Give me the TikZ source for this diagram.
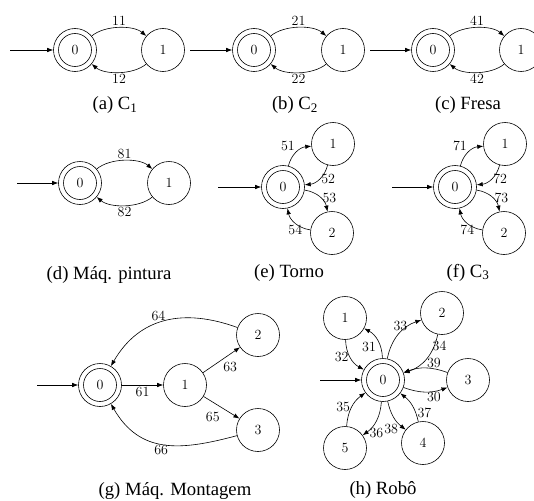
\documentclass[tikz,border=0pt]{standalone}
\usepackage{fontspec}
\newfontfamily\capfont{Liberation Serif}
\usetikzlibrary{arrows.meta}
\newcommand{\lblsize}{\fontsize{14}{16}\selectfont}
\newcommand{\capsize}{\fontsize{18.7}{22}\selectfont}
\tikzset{
  st/.style={circle, draw, minimum size=43pt, inner sep=0pt},
  acc/.style={st, path picture={\draw (path picture bounding box.center) circle (16.5pt);}},
  arr/.style={-{Latex[length=6pt,width=4.5pt]}},
  captxt/.style={font=\capfont\capsize, anchor=base},
  lb/.style={inner sep=1.5pt},
}
\begin{document}
\begin{tikzpicture}[x=1pt, y=1pt, line width=0.6pt, font=\lblsize]
\useasboundingbox (0,0) rectangle (534,-500);

% (a) C1
\node[acc] (a0) at (75,-50) {0};
\node[st] (a1) at (163,-50) {1};
\coordinate (ain) at (10,-50);
\draw[arr] (ain) -- (a0);
\draw[arr] (a0) to[bend left=40, looseness=0.8] node[lb, above] {11} (a1);
\draw[arr] (a1) to[bend left=40, looseness=0.8] node[lb, below] {12} (a0);
\node[captxt] at (115,-110) {(a) C\textsubscript{1}};

% (b) C2
\node[acc] (b0) at (254,-50) {0};
\node[st] (b1) at (343,-50) {1};
\coordinate (bin) at (190,-50);
\draw[arr] (bin) -- (b0);
\draw[arr] (b0) to[bend left=40, looseness=0.8] node[lb, above] {21} (b1);
\draw[arr] (b1) to[bend left=40, looseness=0.8] node[lb, below] {22} (b0);
\node[captxt] at (295,-110) {(b) C\textsubscript{2}};

% (c) Fresa
\node[acc] (c0) at (433,-50) {0};
\node[st] (c1) at (521,-50) {1};
\coordinate (cin) at (370,-50);
\draw[arr] (cin) -- (c0);
\draw[arr] (c0) to[bend left=40, looseness=0.8] node[lb, above] {41} (c1);
\draw[arr] (c1) to[bend left=40, looseness=0.8] node[lb, below] {42} (c0);
\node[captxt] at (468,-110) {(c) Fresa};

% (d) painting machine
\node[acc] (d0) at (80,-183) {0};
\node[st] (d1) at (169,-183) {1};
\coordinate (din) at (17,-183);
\draw[arr] (din) -- (d0);
\draw[arr] (d0) to[bend left=40, looseness=0.8] node[lb, above] {81} (d1);
\draw[arr] (d1) to[bend left=40, looseness=0.8] node[lb, below] {82} (d0);
\node[captxt] at (109,-279) {(d) Máq. pintura};

% (e) Torno
\node[acc] (e0) at (283,-187) {0};
\node[st] (e1) at (333,-144) {1};
\node[st] (e2) at (332,-233) {2};
\coordinate (ein) at (218,-187);
\draw[arr] (ein) -- (e0);
\draw[arr] (e0) to[bend left=35] node[lb, anchor=south east] {51} (e1);
\draw[arr] (e1) to[bend left=35] node[lb, anchor=west] {52} (e0);
\draw[arr] (e0) to[bend left=35] node[lb, pos=0.55, anchor=west] {53} (e2);
\draw[arr] (e2) to[bend left=35] node[lb, anchor=north] {54} (e0);
\node[captxt] at (289,-277) {(e) Torno};

% (f) C3
\node[acc] (f0) at (455,-187) {0};
\node[st] (f1) at (505,-144) {1};
\node[st] (f2) at (504,-233) {2};
\coordinate (fin) at (392,-187);
\draw[arr] (fin) -- (f0);
\draw[arr] (f0) to[bend left=35] node[lb, anchor=south east] {71} (f1);
\draw[arr] (f1) to[bend left=35] node[lb, anchor=west] {72} (f0);
\draw[arr] (f0) to[bend left=35] node[lb, pos=0.55, anchor=west] {73} (f2);
\draw[arr] (f2) to[bend left=35] node[lb, anchor=north] {74} (f0);
\node[captxt] at (468,-277) {(f) C\textsubscript{3}};

% (g) assembly machine
\node[acc] (g0) at (100,-385) {0};
\node[st] (g1) at (185,-385) {1};
\node[st] (g2) at (258,-335) {2};
\node[st] (g3) at (258,-430) {3};
\coordinate (gin) at (37,-385);
\draw[arr] (gin) -- (g0);
\draw[arr] (g0) -- node[lb, below] {61} (g1);
\draw[arr] (g1) -- node[lb, anchor=north west] {63} (g2);
\draw[arr] (g1) -- node[lb, anchor=north east, yshift=-3pt] {65} (g3);
\draw[arr] (g2) to[out=160, in=60, looseness=1.1] node[lb, pos=0.55, above] {64} (g0);
\draw[arr] (g3) to[out=195, in=-60, looseness=1.15] node[inner sep=0.5pt, pos=0.52, below] {66} (g0);
\node[captxt] at (175,-495) {(g) Máq. Montagem};

% (h) robot
\node[acc] (h0) at (383,-380) {0};
\node[st] (h1) at (345,-318) {1};
\node[st] (h2) at (442,-313) {2};
\node[st] (h3) at (468,-380) {3};
\node[st] (h4) at (423,-443) {4};
\node[st] (h5) at (345,-448) {5};
\coordinate (hin) at (320,-380);
\draw[arr] (hin) -- (h0);
\draw[arr] (h0) to[bend right=30] node[lb, anchor=north east] {31} (h1);
\draw[arr] (h1) to[bend right=30] node[lb, anchor=east] {32} (h0);
\draw[arr] (h0) to[bend left=30] node[lb, pos=0.55, anchor=south] {33} (h2);
\draw[arr] (h2) to[bend left=30] node[lb, pos=0.35, anchor=south west] {34} (h0);
\draw[arr] (h3) to[bend right=20] node[inner sep=1pt, pos=0.3, anchor=south] {39} (h0);
\draw[arr] (h0) to[bend right=20] node[inner sep=1pt, pos=0.7, anchor=north] {30} (h3);
\draw[arr] (h4) to[bend right=20] node[lb, pos=0.25, anchor=west] {37} (h0);
\draw[arr] (h0) to[bend right=20] node[inner sep=0.5pt, pos=0.75, anchor=north east] {38} (h4);
\draw[arr] (h5) to[bend left=25] node[lb, anchor=east] {35} (h0);
\draw[arr] (h0) to[bend left=25] node[lb, pos=0.85, anchor=west, yshift=-2pt] {36} (h5);
\node[captxt] at (383,-494) {(h) Robô};
\end{tikzpicture}
\end{document}
